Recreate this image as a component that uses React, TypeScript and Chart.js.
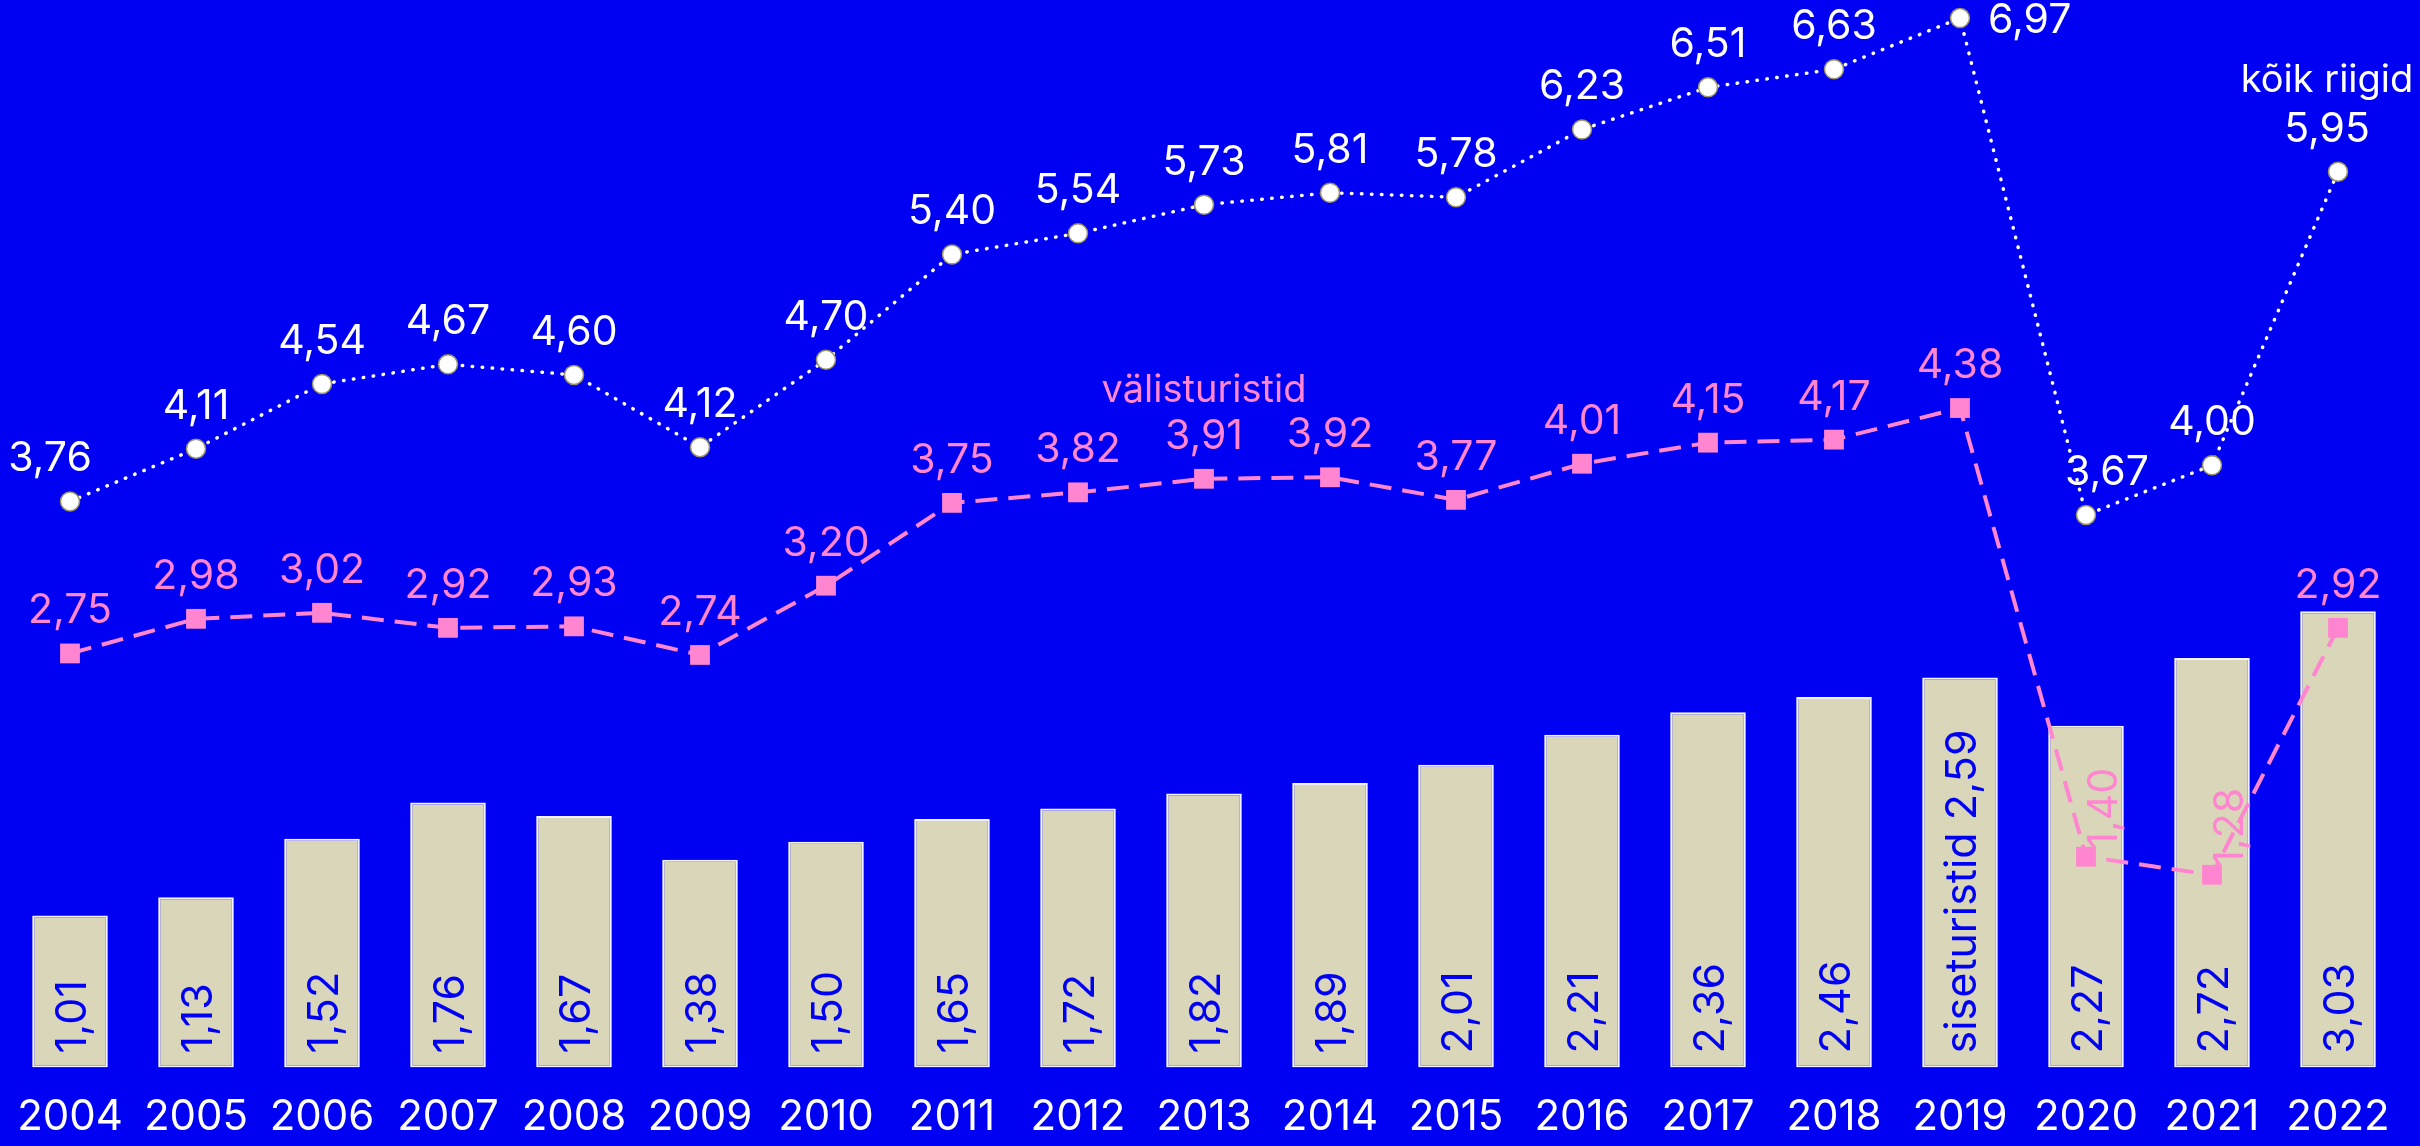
import React, { useEffect, useRef } from "react";
import { Chart, registerables } from "chart.js";

Chart.register(...registerables);

const years = ["2004", "2005", "2006", "2007", "2008", "2009", "2010", "2011", "2012", "2013", "2014", "2015", "2016", "2017", "2018", "2019", "2020", "2021", "2022"];
const domestic = [1.01, 1.13, 1.52, 1.76, 1.67, 1.38, 1.5, 1.65, 1.72, 1.82, 1.89, 2.01, 2.21, 2.36, 2.46, 2.59, 2.27, 2.72, 3.03];
const foreign = [2.75, 2.98, 3.02, 2.92, 2.93, 2.74, 3.2, 3.75, 3.82, 3.91, 3.92, 3.77, 4.01, 4.15, 4.17, 4.38, 1.4, 1.28, 2.92];
const total = [3.76, 4.11, 4.54, 4.67, 4.6, 4.12, 4.7, 5.4, 5.54, 5.73, 5.81, 5.78, 6.23, 6.51, 6.63, 6.97, 3.67, 4.0, 5.95];

const domesticName = "siseturistid";
const foreignName = "välisturistid";
const totalName = "kõik riigid";

const BLUE = "#0000F2";
const PINK = "#FF85D0";
const BEIGE = "#D9D6B9";
const WHITE = "#FFFFFF";
const FONT = "Inter, Lato, sans-serif";

const fmt = (v: number) => v.toFixed(2).replace(".", ",");

const labelPlugin = {
  id: "valueLabels",
  afterDatasetsDraw(chart: any) {
    const ctx = chart.ctx as CanvasRenderingContext2D;
    ctx.save();

    // bar labels (rotated, inside bars)
    const barMeta = chart.getDatasetMeta(0);
    ctx.font = `400 43px ${FONT}`;
    ctx.fillStyle = BLUE;
    barMeta.data.forEach((bar: any, i: number) => {
      const text = i === 15 ? `${domesticName} ${fmt(domestic[i])}` : fmt(domestic[i]);
      ctx.save();
      ctx.translate(bar.x + 16, bar.base - 14);
      ctx.rotate(-Math.PI / 2);
      ctx.textAlign = "left";
      ctx.textBaseline = "alphabetic";
      ctx.fillText(text, 0, 0);
      ctx.restore();
    });

    const numFont = `400 41px ${FONT}`;
    const wordFont = `400 38px ${FONT}`;

    // foreign tourists labels
    const fMeta = chart.getDatasetMeta(1);
    ctx.fillStyle = PINK;
    fMeta.data.forEach((pt: any, i: number) => {
      const text = fmt(foreign[i]);
      ctx.font = numFont;
      if (i === 16 || i === 17) {
        ctx.save();
        ctx.translate(pt.x + 31, pt.y - 8);
        ctx.rotate(-Math.PI / 2);
        ctx.textAlign = "left";
        ctx.textBaseline = "alphabetic";
        ctx.fillText(text, 0, 0);
        ctx.restore();
      } else {
        ctx.textAlign = "center";
        ctx.textBaseline = "alphabetic";
        ctx.fillText(text, pt.x, pt.y - 30);
        if (i === 9) {
          ctx.font = wordFont;
          ctx.fillText(foreignName, pt.x, pt.y - 77);
        }
      }
    });

    // total labels
    const tMeta = chart.getDatasetMeta(2);
    ctx.fillStyle = WHITE;
    tMeta.data.forEach((pt: any, i: number) => {
      const text = fmt(total[i]);
      ctx.font = numFont;
      ctx.textBaseline = "alphabetic";
      if (i === 15) {
        ctx.textAlign = "left";
        ctx.fillText(text, pt.x + 28, pt.y + 15);
      } else {
        ctx.textAlign = "center";
        let dx = 0;
        if (i === 0) dx = -20;
        if (i === 16) dx = 21;
        if (i === 18) dx = -11;
        ctx.fillText(text, pt.x + dx, pt.y - 30);
        if (i === 18) {
          ctx.font = wordFont;
          ctx.fillText(totalName, pt.x + dx, pt.y - 80);
        }
      }
    });

    ctx.restore();
  },
};

export default function App() {
  const canvasRef = useRef<HTMLCanvasElement | null>(null);

  useEffect(() => {
    const canvas = canvasRef.current;
    if (!canvas) return;
    const chart = new Chart(canvas, {
      type: "bar",
      data: {
        labels: years,
        datasets: [
          {
            type: "bar",
            label: domesticName,
            data: domestic,
            backgroundColor: BEIGE,
            borderColor: "rgba(255,255,255,0.95)",
            borderWidth: 2,
            borderSkipped: false,
            barPercentage: 0.6,
            categoryPercentage: 1,
            order: 3,
          },
          {
            type: "line",
            label: foreignName,
            data: foreign,
            borderColor: PINK,
            borderWidth: 4,
            borderDash: [22, 11],
            pointStyle: "rect",
            pointRadius: 14,
            pointBackgroundColor: PINK,
            pointBorderWidth: 0,
            tension: 0,
            fill: false,
            clip: false,
            order: 2,
          },
          {
            type: "line",
            label: totalName,
            data: total,
            borderColor: WHITE,
            borderWidth: 3.5,
            borderDash: [0.5, 9.5],
            borderCapStyle: "round",
            pointStyle: "circle",
            pointRadius: 9.5,
            pointBackgroundColor: WHITE,
            pointBorderColor: "#9B9466",
            pointBorderWidth: 1.5,
            tension: 0,
            fill: false,
            clip: false,
            order: 1,
          },
        ] as any,
      },
      options: {
        responsive: false,
        animation: false,
        layout: { autoPadding: false, padding: { left: 7, right: 19, top: 0, bottom: 0 } },
        plugins: {
          legend: { display: false },
          tooltip: { enabled: false },
        },
        scales: {
          x: {
            grid: { display: false, drawTicks: false },
            border: { display: false },
            ticks: {
              color: WHITE,
              font: { family: FONT, size: 42, weight: 400 as any },
              padding: 25,
              maxRotation: 0,
              autoSkip: false,
            },
            afterFit: (scale: any) => {
              scale.paddingLeft = 0;
              scale.paddingRight = 0;
              scale.height = 78.5;
            },
          },
          y: {
            display: false,
            min: 0,
            max: 7.09,
          },
        },
      },
      plugins: [labelPlugin],
    });
    return () => chart.destroy();
  }, []);

  return (
    <div
      style={{
        position: "absolute",
        left: 0,
        top: 0,
        width: 2420,
        height: 1146,
        background: BLUE,
      }}
    >
      <canvas ref={canvasRef} width={2420} height={1146} style={{ display: "block" }} />
    </div>
  );
}
